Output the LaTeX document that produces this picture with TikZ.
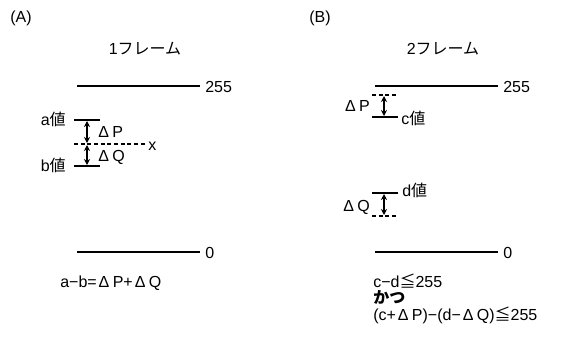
\documentclass[tikz,border=0pt]{standalone}
\usepackage{fontspec}
\setmainfont{Liberation Sans}
\newfontfamily\jpfont{Noto Sans CJK JP}
\newcommand{\jt}[1]{{\jpfont #1}}
\newcommand{\dlt}{\hspace{1.5pt}Δ\hspace{2.5pt}}
\usetikzlibrary{arrows.meta}
\tikzset{
  lbl/.style={inner sep=0pt, font=\fontsize{12}{14}\selectfont},
  eqline/.style={lbl, anchor=west, text height=8.5pt, text depth=2pt},
  level/.style={line width=0.9pt},
  tick/.style={line width=0.9pt},
  guide/.style={line width=0.8pt, dash pattern=on 3pt off 2pt},
  span/.style={line width=0.9pt, {Stealth[length=4.5pt,width=4.5pt]}-{Stealth[length=4.5pt,width=4.5pt]}}
}
\begin{document}
\begin{tikzpicture}[x=0.75pt, y=-0.75pt]
\useasboundingbox (0,0) rectangle (561,336);

% ---- panel (A): one frame ----
\node[lbl] (tA) at (21,18) {(A)};
\node[lbl] (hA) at (145,49) {1\jt{フレーム}};

\coordinate (a255l) at (77,86);  \coordinate (a255r) at (200,86);
\draw[level] (a255l) -- (a255r);
\node[lbl, anchor=west] (v255A) at (205,87) {255};

\coordinate (a0l) at (77,252);  \coordinate (a0r) at (200,252);
\draw[level] (a0l) -- (a0r);
\node[lbl, anchor=west] (v0A) at (205,253) {0};

% a, x and b marks
\coordinate (al) at (74,120);  \coordinate (ar) at (100,120);
\coordinate (xl) at (74,144);  \coordinate (xr) at (145,144);
\coordinate (bl) at (74,166);  \coordinate (br) at (100,166);
\draw[tick] (al) -- (ar);
\draw[guide] (xl) -- (xr);
\draw[tick] (bl) -- (br);
\node[lbl, anchor=east] (la) at (66,119) {a\jt{値}};
\node[lbl, anchor=east] (lb) at (66,165) {b\jt{値}};
\node[lbl, anchor=west] (lx) at (148,146) {x};

\coordinate (pA1) at (87,121); \coordinate (pA2) at (87,143);
\coordinate (qA1) at (87,145); \coordinate (qA2) at (87,165);
\draw[span] (pA1) -- (pA2);
\draw[span] (qA1) -- (qA2);
\node[lbl, anchor=west] (dPA) at (96,132) {\dlt P};
\node[lbl, anchor=west] (dQA) at (96,157) {\dlt Q};

\node[eqline] (eqA) at (60,283) {a−b=\dlt P+\dlt Q};

% ---- panel (B): two frames ----
\node[lbl] (tB) at (320,18) {(B)};
\node[lbl] (hB) at (443,49) {2\jt{フレーム}};

\coordinate (b255l) at (375,86);  \coordinate (b255r) at (498,86);
\draw[level] (b255l) -- (b255r);
\node[lbl, anchor=west] (v255B) at (503,87) {255};

\coordinate (b0l) at (375,252);  \coordinate (b0r) at (498,252);
\draw[level] (b0l) -- (b0r);
\node[lbl, anchor=west] (v0B) at (503,253) {0};

% c with its upper margin
\coordinate (cpl) at (372,95);  \coordinate (cpr) at (398,95);
\coordinate (cl) at (372,117);  \coordinate (cr) at (398,117);
\draw[guide] (cpl) -- (cpr);
\draw[tick] (cl) -- (cr);
\coordinate (pB1) at (384,96); \coordinate (pB2) at (384,116);
\draw[span] (pB1) -- (pB2);
\node[lbl, anchor=east] (dPB) at (370,106) {\dlt P};
\node[lbl, anchor=west] (lc) at (401,118) {c\jt{値}};

% d with its lower margin
\coordinate (dl) at (372,193);  \coordinate (dr) at (398,193);
\coordinate (dql) at (372,216); \coordinate (dqr) at (398,216);
\draw[tick] (dl) -- (dr);
\draw[guide] (dql) -- (dqr);
\coordinate (qB1) at (384,194); \coordinate (qB2) at (384,215);
\draw[span] (qB1) -- (qB2);
\node[lbl, anchor=east] (dQB) at (370,207) {\dlt Q};
\node[lbl, anchor=west] (ld) at (402,190) {d\jt{値}};

\node[eqline] (eqB1) at (373,283) {c−d\jt{≦}255};
\node[eqline, font=\fontsize{12}{14}\selectfont\jpfont\bfseries] (eqB2) at (373,299) {かつ};
\node[eqline] (eqB3) at (373,316) {(c+\dlt P)−(d−\dlt Q)\jt{≦}255};
\end{tikzpicture}
\end{document}
